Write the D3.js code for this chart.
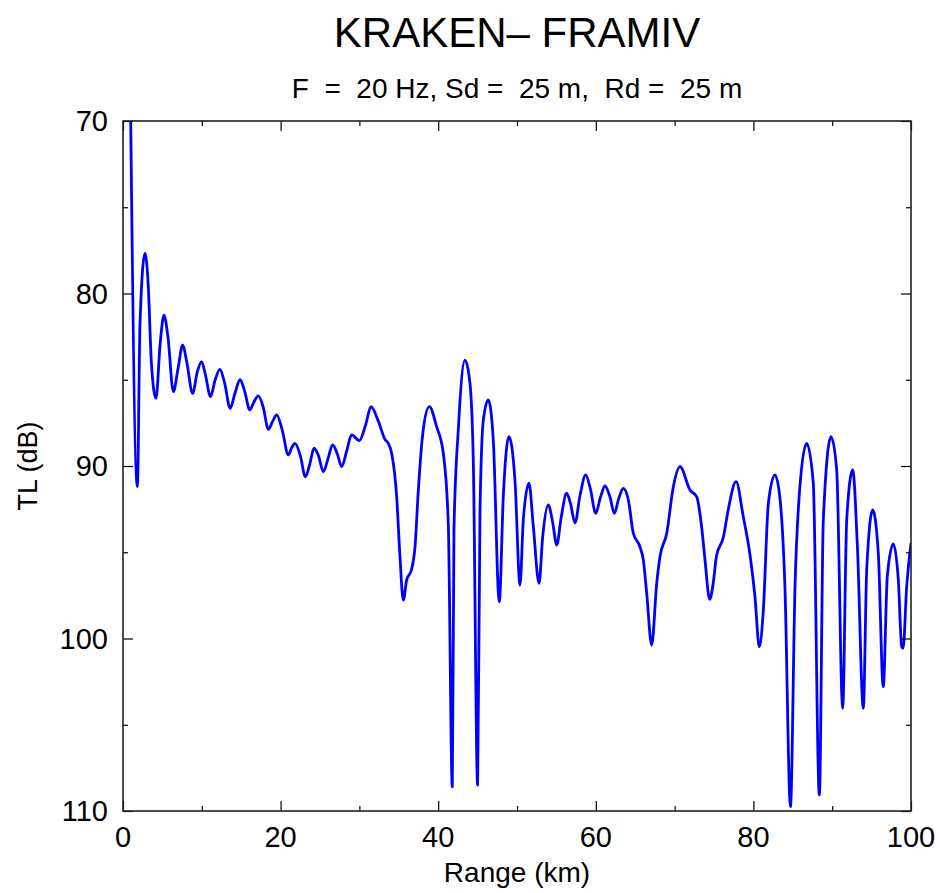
<!DOCTYPE html>
<html><head><meta charset="utf-8">
<script src="https://cdn.jsdelivr.net/npm/d3@7"></script>
<style>
html,body{margin:0;padding:0;background:#fff;}
text{font-family:"Liberation Sans",Arial,Helvetica,sans-serif;fill:#000;}
</style></head>
<body><div id="chart"></div>
<script>
const rangeKm = [0.8,0.98,1.82,2.16,2.79,3.2,3.6,4.19,4.7,5.2,5.7,6.39,7.0,7.57,8.1,8.84,9.4,9.98,10.5,11.1,11.7,12.3,12.9,13.6,14.2,14.85,15.4,16.1,16.6,17.17,17.8,18.44,19.0,19.5,20.2,20.98,21.4,21.83,22.5,23.15,23.7,24.24,24.8,25.42,26.0,26.6,27.2,27.75,28.4,29.0,30.0,30.8,31.47,32.4,33.25,33.67,34.1,34.73,35.15,35.57,36.0,36.6,37.06,37.48,38.1,38.87,39.8,40.65,41.28,41.79,42.0,42.55,43.4,44.03,44.46,45.0,45.3,45.73,46.36,46.99,47.75,48.26,48.98,49.75,50.38,50.8,51.52,52.07,52.8,53.26,53.97,54.5,55.04,55.6,56.3,56.8,57.36,58.0,58.72,59.3,59.99,60.6,61.17,61.8,62.35,62.9,63.5,64.13,64.76,65.6,66.03,66.46,67.09,67.73,68.15,69.0,69.84,70.69,71.95,72.8,73.43,73.86,74.45,74.9,75.3,76.2,76.8,77.8,78.7,79.6,80.2,80.75,81.26,81.9,82.74,83.4,84.0,84.7,85.28,85.9,86.76,87.6,88.37,88.87,89.85,90.57,91.33,91.84,92.6,93.2,93.95,94.38,95.14,95.85,96.48,96.99,97.75,98.39,98.82,99.0,99.45,100.0];
const tlDb = [62,70,91.2,81.7,77.67,79.5,84,86.08,83,81.25,82.5,85.69,84.3,82.99,84,85.79,84.6,83.95,84.8,85.98,85,84.4,85.2,86.66,85.8,85.0,85.6,86.75,86.3,85.94,86.6,87.87,87.4,87.04,87.9,89.36,88.95,88.69,89.4,90.62,89.9,88.97,89.4,90.33,89.6,88.78,89.3,90.04,89.1,88.2,88.53,87.6,86.56,87.4,88.46,88.69,89.27,91.78,95.26,97.77,96.6,96.03,94.68,91.39,87.9,86.56,87.72,89.27,93.32,108.6,93.7,87.9,83.86,85.2,89.85,108.5,92.74,87.33,86.17,88.49,97.87,91.78,88.3,90.9,96.9,93.13,91.0,93.5,96.8,94.1,92.26,93.2,94.58,93.0,91.58,92.2,93.29,91.7,90.52,91.3,92.74,91.8,91.16,91.8,92.74,91.9,91.3,91.97,93.9,94.68,95.45,97.38,100.38,96.8,95.25,93.9,91.2,90.04,91.39,91.78,93.52,95.45,97.73,96.8,95.26,94.1,92.55,90.9,92.9,95.26,97.58,100.48,98.35,92.16,90.52,92.0,97.0,109.75,97.0,91.2,88.69,91.0,109.07,93.13,88.3,90.23,104.05,93.13,90.23,94.68,104.05,96.0,92.55,95.06,102.8,96.42,94.52,96.6,100.48,100.57,97.0,94.48];
const xTickValues = [0,20,40,60,80,100];
const xMinorTicks = [10,30,50,70,90];
const yTickValues = [70,80,90,100,110];
const yMinorTicks = [75,85,95,105];
const titleText = "KRAKEN\u2013 FRAMIV";
const subtitleText = "F  =  20 Hz, Sd =  25 m,  Rd =  25 m";
const xLabel = "Range (km)";
const yLabel = "TL (dB)";

const W = 940, H = 893;
const m = {left:123, right:940-911, top:121, bottom:893-811};
const iw = W - m.left - m.right, ih = H - m.top - m.bottom;

const svg = d3.select("#chart").append("svg").attr("width",W).attr("height",H);
const x = d3.scaleLinear().domain([0,100]).range([m.left, m.left+iw]);
const y = d3.scaleLinear().domain([70,110]).range([m.top, m.top+ih]);

svg.append("defs").append("clipPath").attr("id","clip")
  .append("rect").attr("x",m.left).attr("y",m.top).attr("width",iw).attr("height",ih);

const data = rangeKm.map((r,i)=>({r, v: tlDb[i]}));
svg.append("path").datum(data)
  .attr("clip-path","url(#clip)")
  .attr("fill","none").attr("stroke","#0000ff").attr("stroke-width",2.8)
  .attr("stroke-linejoin","round")
  .attr("d", d3.line().x(d=>x(d.r)).y(d=>y(d.v)).curve(d3.curveMonotoneX));

function styleAxis(g){ g.select(".domain").remove(); g.selectAll("line").attr("stroke","#000").attr("stroke-width",1.2); g.selectAll("text").remove(); }
const gb = svg.append("g").attr("transform",`translate(0,${m.top+ih})`);
gb.call(d3.axisTop(x).tickValues(xTickValues).tickSize(10)).call(styleAxis);
const gbm = svg.append("g").attr("transform",`translate(0,${m.top+ih})`);
gbm.call(d3.axisTop(x).tickValues(xMinorTicks).tickSize(5)).call(styleAxis);
const gt = svg.append("g").attr("transform",`translate(0,${m.top})`);
gt.call(d3.axisBottom(x).tickValues(xTickValues).tickSize(10)).call(styleAxis);
const gtm = svg.append("g").attr("transform",`translate(0,${m.top})`);
gtm.call(d3.axisBottom(x).tickValues(xMinorTicks).tickSize(5)).call(styleAxis);
const gl = svg.append("g").attr("transform",`translate(${m.left},0)`);
gl.call(d3.axisRight(y).tickValues(yTickValues).tickSize(10)).call(styleAxis);
const glm = svg.append("g").attr("transform",`translate(${m.left},0)`);
glm.call(d3.axisRight(y).tickValues(yMinorTicks).tickSize(5)).call(styleAxis);
const gr = svg.append("g").attr("transform",`translate(${m.left+iw},0)`);
gr.call(d3.axisLeft(y).tickValues(yTickValues).tickSize(10)).call(styleAxis);
const grm = svg.append("g").attr("transform",`translate(${m.left+iw},0)`);
grm.call(d3.axisLeft(y).tickValues(yMinorTicks).tickSize(5)).call(styleAxis);

svg.append("rect").attr("x",m.left).attr("y",m.top).attr("width",iw).attr("height",ih)
  .attr("fill","none").attr("stroke","#222").attr("stroke-width",1.6);

svg.append("g").selectAll("text").data(xTickValues).join("text")
  .attr("x",d=>x(d)).attr("y",m.top+ih+36).attr("text-anchor","middle")
  .attr("font-size",29).text(d=>d);
svg.append("g").selectAll("text").data(yTickValues).join("text")
  .attr("x",m.left-15).attr("y",d=>y(d)+10).attr("text-anchor","end")
  .attr("font-size",29).text(d=>d);

svg.append("text").attr("x",(m.left+m.left+iw)/2).attr("y",882).attr("text-anchor","middle")
  .attr("font-size",28).text(xLabel);
svg.append("text").attr("transform",`translate(37,${(m.top+m.top+ih)/2}) rotate(-90)`)
  .attr("text-anchor","middle").attr("font-size",27).text(yLabel);
svg.append("text").attr("x",(m.left+m.left+iw)/2).attr("y",47).attr("text-anchor","middle")
  .attr("font-size",42).text(titleText);
svg.append("text").attr("x",(m.left+m.left+iw)/2).attr("y",98).attr("text-anchor","middle")
  .attr("font-size",28).style("white-space","pre").text(subtitleText);
</script></body></html>
